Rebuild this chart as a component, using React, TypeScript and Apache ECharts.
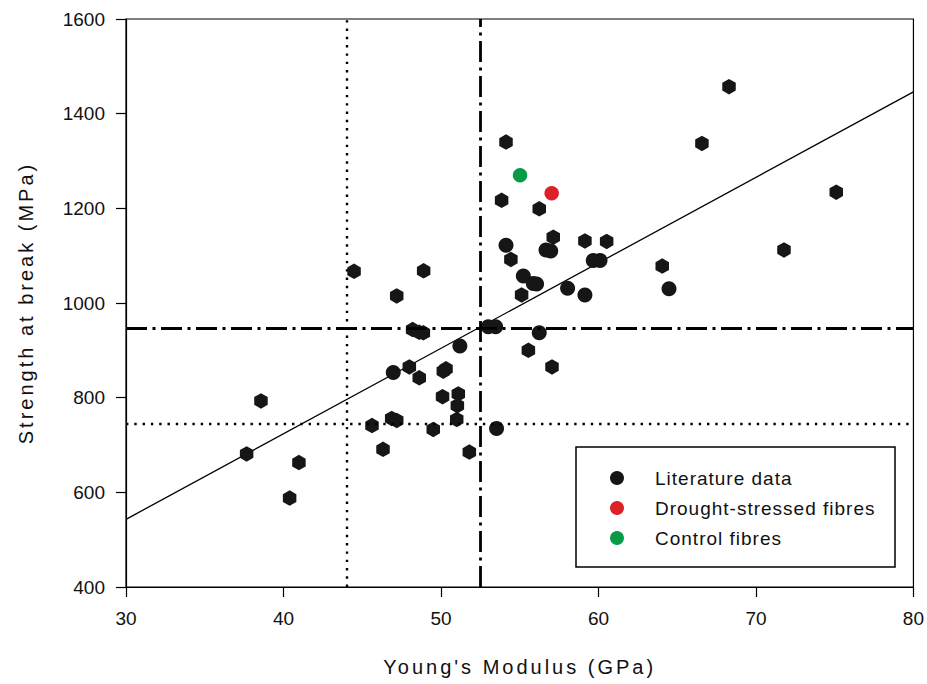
import React, { useEffect, useRef } from "react";
import * as echarts from "echarts";

// ---- data ----
const xTicks = [30, 40, 50, 60, 70, 80];
const yTicks = [400, 600, 800, 1000, 1200, 1400, 1600];

// Literature data drawn as hexagons
const literatureHex: number[][] = [
  [37.66, 681], [38.57, 793], [40.39, 588], [40.98, 663], [44.48, 1067],
  [47.19, 1015], [48.9, 1068], [45.62, 741], [46.32, 691], [46.87, 756],
  [47.19, 752], [47.99, 865], [48.62, 842], [48.2, 944], [48.62, 938],
  [48.88, 937], [49.51, 733], [50.1, 802], [50.15, 856], [50.32, 861],
  [51.1, 808], [51.04, 783], [51.0, 754], [51.8, 685], [53.85, 1217],
  [56.24, 1199], [54.44, 1092], [57.13, 1139], [59.14, 1131], [60.52, 1130],
  [64.05, 1078], [55.12, 1017], [55.55, 900], [57.05, 865], [54.13, 1340],
  [68.29, 1457], [66.57, 1337], [75.1, 1234], [71.78, 1112],
];
// Literature data drawn as circles
const literatureCircle: number[][] = [
  [46.97, 853], [51.2, 909], [53.53, 735], [53.0, 950], [53.47, 950],
  [54.13, 1122], [56.67, 1112], [56.97, 1110], [59.67, 1090], [60.1, 1090],
  [64.48, 1030], [55.23, 1057], [55.86, 1041], [56.07, 1040], [58.04, 1031],
  [59.14, 1017], [56.24, 937],
];
const droughtStressed: number[][] = [[57.03, 1232]];
const controlFibres: number[][] = [[55.02, 1270]];

// linear regression line (end points)
const regressionX = [30, 80];
const regressionY = [543, 1446];

// reference lines
const xDotted = 44;
const xDashDot = 52.5;
const yDashDot = 947;
const yDotted = 745;

const seriesNames = ["Literature data", "Drought-stressed fibres", "Control fibres"];

const HEX = "path://M0,-10L8.66,-5L8.66,5L0,10L-8.66,5L-8.66,-5Z";
const FONT = "'Liberation Sans', Arial, Helvetica, sans-serif";
const INK = "#111";

export default function App() {
  const ref = useRef<HTMLDivElement>(null);

  useEffect(() => {
    if (!ref.current) return;
    const chart = echarts.init(ref.current, undefined, { renderer: "svg" });

    const litData = [
      ...literatureHex.map((p) => ({ value: p, symbol: HEX, symbolSize: [13.5, 15.5] })),
      ...literatureCircle.map((p) => ({ value: p, symbol: "circle", symbolSize: 15 })),
    ];

    const dotted = { type: [2.4, 5.9] as number[], width: 2.4, color: "#000" };
    const dashDot = { type: [21, 5.5, 3, 5.5] as number[], width: 2.8, color: "#000" };

    chart.setOption({
      animation: false,
      backgroundColor: "#fff",
      textStyle: { fontFamily: FONT },
      grid: {
        left: 126,
        right: 13,
        top: 19,
        bottom: 97,
        show: true,
        borderColor: "#000",
        borderWidth: 1.2,
        backgroundColor: "transparent",
      },
      xAxis: {
        type: "value",
        min: xTicks[0],
        max: xTicks[xTicks.length - 1],
        interval: 10,
        name: "Young's Modulus (GPa)",
        nameLocation: "middle",
        nameGap: 70,
        nameTextStyle: { fontSize: 20, color: INK, fontFamily: FONT },
        axisLine: { show: true, lineStyle: { color: "#000", width: 1.2 } },
        axisTick: { show: true, inside: false, length: 10, lineStyle: { color: "#000", width: 1.2 } },
        axisLabel: { fontSize: 19, color: INK, margin: 22, fontFamily: FONT, formatter: (v: number) => String(v) },
        splitLine: { show: false },
      },
      yAxis: {
        type: "value",
        min: yTicks[0],
        max: yTicks[yTicks.length - 1],
        interval: 200,
        name: "Strength at break (MPa)",
        nameLocation: "middle",
        nameGap: 90,
        nameTextStyle: { fontSize: 20, color: INK, fontFamily: FONT },
        axisLine: { show: true, lineStyle: { color: "#000", width: 1.2 } },
        axisTick: { show: true, inside: false, length: 10, lineStyle: { color: "#000", width: 1.2 } },
        axisLabel: { fontSize: 19, color: INK, margin: 21, fontFamily: FONT, formatter: (v: number) => String(v) },
        splitLine: { show: false },
      },
      legend: {
        orient: "vertical",
        left: 605,
        top: 463,
        itemWidth: 66,
        itemHeight: 14,
        itemGap: 10,
        symbolKeepAspect: true,
        selectedMode: false,
        textStyle: { fontSize: 19, color: INK, fontFamily: FONT, lineHeight: 20 },
        data: seriesNames.map((n) => ({ name: n, icon: "circle" })),
      },
      graphic: [
        {
          type: "rect",
          shape: { x: 576, y: 447, width: 319, height: 120 },
          style: { fill: "transparent", stroke: "#000", lineWidth: 1.5 },
          silent: true,
          z: 10,
        },
      ],
      series: [
        {
          type: "line",
          name: "regression",
          data: regressionX.map((x, i) => [x, regressionY[i]]),
          showSymbol: false,
          symbol: "none",
          lineStyle: { color: "#000", width: 1.3 },
          silent: true,
          z: 1,
          markLine: {
            silent: true,
            symbol: ["none", "none"],
            label: { show: false },
            animation: false,
            data: [
              { xAxis: xDotted, lineStyle: dotted },
              { yAxis: yDotted, lineStyle: dotted },
              { xAxis: xDashDot, lineStyle: dashDot },
              { yAxis: yDashDot, lineStyle: dashDot },
            ],
          },
        },
        {
          type: "scatter",
          name: seriesNames[0],
          data: litData,
          itemStyle: { color: "#161616", opacity: 1 },
          z: 3,
        },
        {
          type: "scatter",
          name: seriesNames[1],
          data: droughtStressed,
          symbol: "circle",
          symbolSize: 14.5,
          itemStyle: { color: "#dd2128", opacity: 1 },
          z: 4,
        },
        {
          type: "scatter",
          name: seriesNames[2],
          data: controlFibres,
          symbol: "circle",
          symbolSize: 14.5,
          itemStyle: { color: "#079b48", opacity: 1 },
          z: 4,
        },
      ],
    });

    const spacing: Record<string, string> = {
      "Young's Modulus (GPa)": "3px",
      "Strength at break (MPa)": "3px",
      "Literature data": "1px",
      "Drought-stressed fibres": "1px",
      "Control fibres": "1px",
    };
    const applySpacing = () => {
      const root = ref.current;
      if (!root) return;
      root.querySelectorAll("text").forEach((t) => {
        const s = spacing[(t.textContent || "").trim()];
        if (s) t.setAttribute("letter-spacing", s);
      });
    };
    applySpacing();
    chart.on("finished", applySpacing);
    const timer = setTimeout(applySpacing, 60);

    return () => {
      clearTimeout(timer);
      chart.dispose();
    };
  }, []);

  return (
    <div
      ref={ref}
      style={{ position: "fixed", left: 0, top: 0, width: 927, height: 684, background: "#fff" }}
    />
  );
}
